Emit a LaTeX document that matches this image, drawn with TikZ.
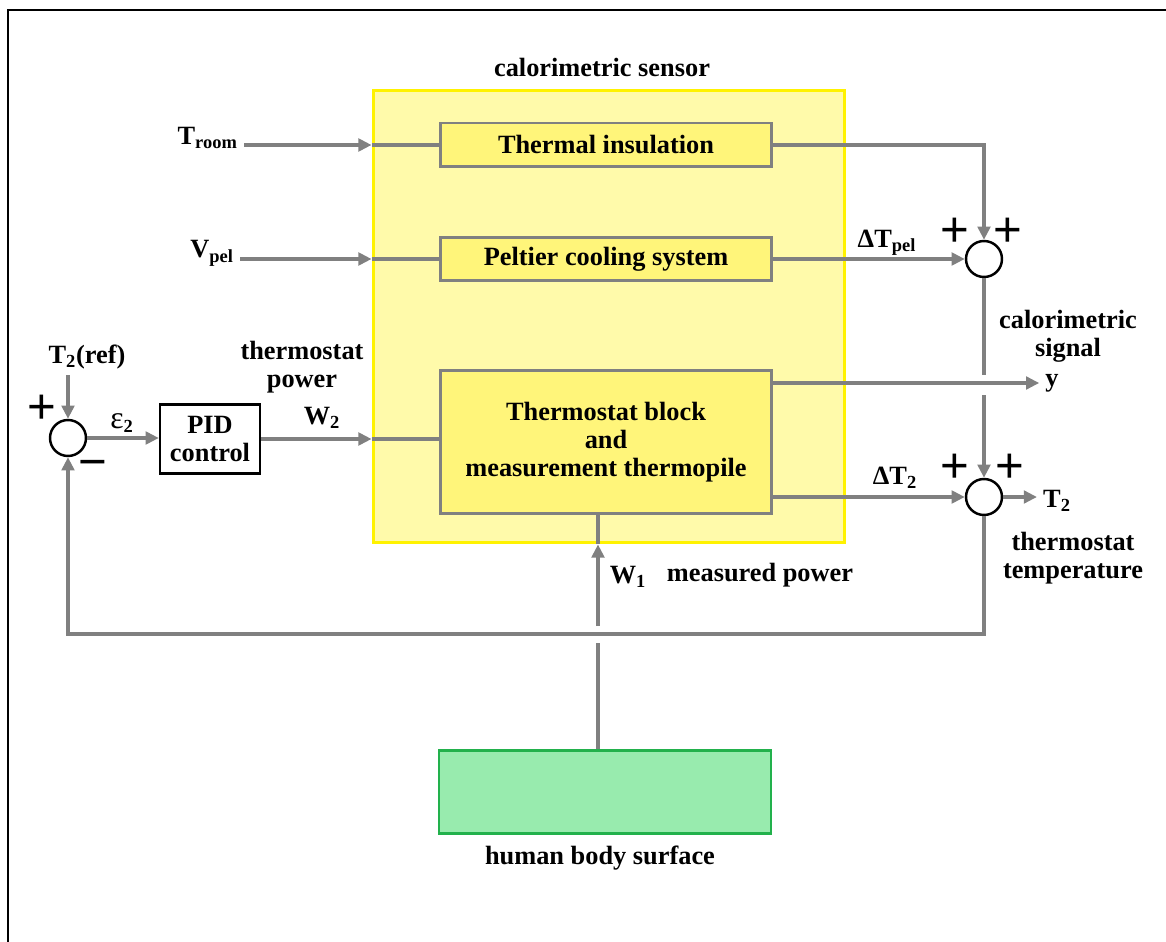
\documentclass[tikz,border=0pt]{standalone}
\usepackage{fontspec}
\setmainfont{Liberation Serif}
\newfontfamily\signfont{Liberation Sans}
\usetikzlibrary{positioning,arrows.meta}

\definecolor{wiregray}{RGB}{128,128,128}
\definecolor{sensorfill}{RGB}{255,250,170}
\definecolor{sensorline}{RGB}{255,242,0}
\definecolor{unitfill}{RGB}{255,245,122}
\definecolor{bodyfill}{RGB}{152,235,174}
\definecolor{bodyline}{RGB}{34,177,76}

\tikzset{
  wire/.style={draw=wiregray, line width=1.8pt},
  flow/.style={wire, -{Triangle[length=7.5pt,width=7.2pt]}},
  unit/.style={draw=wiregray, fill=unitfill, line width=1.7pt, minimum width=6.64cm, align=center},
  sumpt/.style={circle, draw=black, line width=1.4pt, minimum size=0.72cm, inner sep=0pt},
  sign/.style={font=\signfont\fontsize{28}{28}\selectfont},
  lbl/.style={align=center}
}

\begin{document}
\begin{tikzpicture}[x=0.02cm, y=-0.02cm, font=\fontsize{15}{16}\selectfont\bfseries]
    \useasboundingbox (0,0) rectangle (1166,942);
    \draw [line width=1pt] (8,960) -- (8,10) -- (1180,10);

    % calorimetric sensor
    \node (sensor) [draw=sensorline, fill=sensorfill, line width=1.7pt,
        minimum width=9.44cm, minimum height=9.06cm] at (609,316.5) {};
    \node (sensorcap) [lbl] at (602,67) {calorimetric sensor};
    \node (insul) [unit, minimum height=0.88cm] at (606,145) {Thermal insulation};
    \node (peltier) [unit, minimum height=0.86cm] at (606,259) {Peltier cooling system};
    \node (block) [unit, minimum height=2.88cm] at (606,442)
        {Thermostat block\\and\\measurement thermopile};
    \node (body) [draw=bodyline, fill=bodyfill, line width=1.6pt,
        minimum width=6.64cm, minimum height=1.66cm] at (605,792) {};
    \node (bodycap) [lbl] at (600,858) {human body surface};

    % inputs
    \node (troom) [anchor=base east] at (244,145) {T\textsubscript{room}};
    \node (vpel) [anchor=base east] at (240,258) {V\textsubscript{pel}};
    \draw [flow] (troom.east |- insul) -- (insul -| sensor.west);
    \draw [wire] (insul -| sensor.west) -- (insul.west);
    \draw [flow] (vpel.east |- peltier) -- (peltier -| sensor.west);
    \draw [wire] (peltier -| sensor.west) -- (peltier.west);

    % PID loop
    \node (sum0) [sumpt] at (68,438) {};
    \node (pid) [draw, line width=1.4pt, minimum width=2cm, minimum height=1.38cm,
        align=center] at (210,439) {PID\\control};
    \node (t2ref) at (87,357) {T\textsubscript{2}(ref)};
    \node (eps) at (122,423) {{\mdseries\fontsize{18}{18}\selectfont ε}\textsubscript{2}};
    \node (plus0) [sign] at (42,409) {+};
    \node (minus0) [sign] at (93,469) {−};
    \node (thpower) [lbl] at (302,367) {thermostat\\power};
    \node (wtwo) at (322,418) {W\textsubscript{2}};
    \draw [flow] (t2ref.south -| sum0) -- (sum0.north);
    \draw [flow] (sum0.east) -- (pid.west |- sum0);
    \draw [flow] (pid.east) -- (pid -| sensor.west);
    \draw [wire] (pid -| sensor.west) -- (pid -| block.west);

    % summing points
    \node (sum1) [sumpt] at (984,259) {};
    \node (sum2) [sumpt] at (984,497) {};
    \node (plus1a) [sign] at (955,232) {+};
    \node (plus1b) [sign] at (1008,232) {+};
    \node (plus2a) [sign] at (955,468) {+};
    \node (plus2b) [sign] at (1010,468) {+};
    \node (dtpel) at (887,243) {ΔT\textsubscript{pel}};
    \node (dttwo) at (895,478) {ΔT\textsubscript{2}};
    \node (yout) at (1052,383) {y};
    \node (ttwo) at (1057,501) {T\textsubscript{2}};
    \node (calsig) [lbl] at (1068,336) {calorimetric\\signal};
    \node (thtemp) [lbl] at (1073,558) {thermostat\\temperature};
    \coordinate (gapa) at (984,375);
    \coordinate (gapb) at (984,395);
    \coordinate (fb) at (68,634);
    \draw [flow] (insul.east) -| (sum1.north);
    \draw [flow] (peltier.east) -- (sum1.west);
    \draw [wire] (sum1.south) -- (gapa);
    \draw [flow] (gapb) -- (sum2.north);
    \draw [flow] (block.east |- yout) -- (yout.west);
    \draw [flow] (block.east |- sum2) -- (sum2.west);
    \draw [flow] (sum2.east) -- (ttwo.west |- sum2);
    \draw [flow] (sum2.south) |- (fb) -- (sum0.south);

    % measured power
    \node (wone) at (628,577) {W\textsubscript{1}};
    \node (measpow) at (760,575) {measured power};
    \coordinate (w1a) at (598,643);
    \coordinate (w1b) at (598,626);
    \draw [wire] (body.north -| w1a) -- (w1a);
    \draw [flow] (w1b) -- (w1b |- sensor.south);
    \draw [wire] (w1b |- sensor.south) -- (w1b |- block.south);
\end{tikzpicture}
\end{document}
